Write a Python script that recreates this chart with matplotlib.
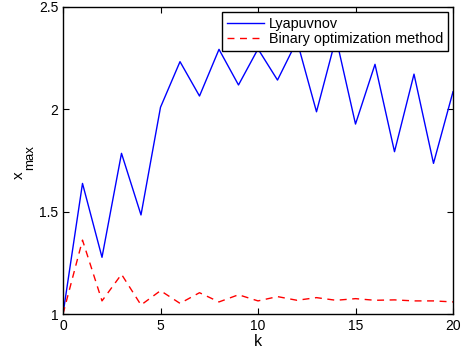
import matplotlib
matplotlib.use("Agg")
import matplotlib.pyplot as plt

plt.rcParams['font.family'] = ['Liberation Sans', 'DejaVu Sans']

k = list(range(21))
lyapunov = [1.0, 1.638, 1.277, 1.785, 1.484, 2.01, 2.233, 2.065, 2.293, 2.119,
            2.295, 2.143, 2.335, 1.988, 2.35, 1.928, 2.22, 1.793, 2.172, 1.736, 2.086]
binary = [1.0, 1.361, 1.064, 1.194, 1.044, 1.114, 1.052, 1.104, 1.059, 1.094,
          1.064, 1.085, 1.067, 1.080, 1.067, 1.075, 1.067, 1.069, 1.064, 1.064, 1.059]
xticks = [0, 5, 10, 15, 20]
yticks = [1, 1.5, 2, 2.5]
ytick_labels = ['1', '1.5', '2', '2.5']

W, H = 464, 358
fig = plt.figure(figsize=(W/100, H/100), dpi=100)
ax = fig.add_axes([63/W, 44/H, 390/W, 307/H])
ax.plot(k, lyapunov, color='#0000ff', lw=1.0, label='Lyapuvnov')
ax.plot(k, binary, color='#ff0000', lw=1.0, ls=(0, (5, 4)), label='Binary optimization method')
ax.set_xlim(0, 20)
ax.set_ylim(1, 2.5)
ax.set_xticks(xticks)
ax.set_yticks(yticks)
ax.set_yticklabels(ytick_labels)
ax.tick_params(direction='in', top=True, right=True, labelsize=10, length=4, width=0.8)
for s in ax.spines.values():
    s.set_linewidth(1.0)
ax.set_xlabel('k', fontsize=11.5, labelpad=1)

# y label: x with subscript "max" (MATLAB style)
fig.text(22.7/W, (H - 179.3)/H, 'x', rotation=90, rotation_mode='anchor',
         ha='left', va='baseline', fontsize=11)
fig.text(32.7/W, (H - 169.8)/H, 'max', rotation=90, rotation_mode='anchor',
         ha='left', va='baseline', fontsize=9.5)

leg = ax.legend(loc='upper right', fontsize=10.4, frameon=True, fancybox=False,
                borderpad=0.35, labelspacing=0.05, handlelength=2.6, handletextpad=0.3,
                borderaxespad=0.35)
leg.get_frame().set_edgecolor('black')
leg.get_frame().set_linewidth(1.0)
leg.get_frame().set_alpha(1)
fig.savefig('out.png', dpi=100)
